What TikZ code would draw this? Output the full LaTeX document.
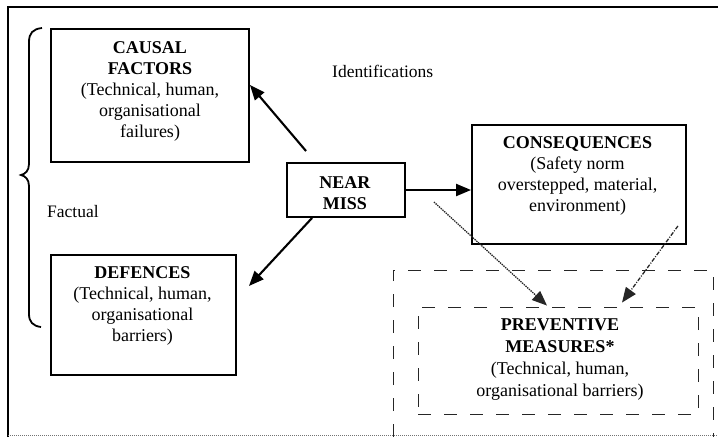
\documentclass[tikz,border=0pt]{standalone}
\usepackage{fontspec}
\setmainfont{Liberation Serif}
\usetikzlibrary{arrows.meta}

\begin{document}
\begin{tikzpicture}[x=1pt,y=-1pt,
  box/.style={draw, line width=1.9pt, rectangle, inner sep=0pt},
  label/.style={align=center, inner sep=0pt, font=\fontsize{18}{21}\selectfont},
  plain/.style={inner sep=0pt, font=\fontsize{17.5}{21}\selectfont},
  solidarrow/.style={line width=2.1pt, -{Triangle[length=15pt,width=12pt]}},
  dotarrow/.style={line width=1.3pt, densely dotted, black!85, -{Triangle[length=15pt,width=12pt]}},
  dasharrow/.style={line width=1.3pt, black!85, dash pattern=on 4pt off 1.5pt on 1pt off 1.5pt, -{Triangle[length=15pt,width=12pt]}},
  measure/.style={line width=0.9pt, dash pattern=on 13pt off 13pt, black!85}]

\useasboundingbox (0,0) rectangle (719,437);

% outer frame
\draw[line width=1.6pt] (8,437) -- (8,7) -- (718,7);
\draw[line width=1pt, black!55, densely dotted] (8,435) -- (718,435);

% boxes
\node[box, minimum width=198pt, minimum height=133pt] (causal) at (150,95.5) {};
\node[box, minimum width=118pt, minimum height=54pt] (near) at (346,190) {};
\node[box, minimum width=214pt, minimum height=119pt] (cons) at (579,184.5) {};
\node[box, minimum width=185pt, minimum height=120pt] (def) at (143.5,315) {};
\node[draw, measure, rectangle, inner sep=0pt, minimum width=280pt, minimum height=107pt] (prev) at (558,360.5) {};

% open dashed frame around the preventive measures
\draw[measure] (393,437) -- (393,270) -- (713,270) -- (713,437);

% box texts
\node[label] (causal-t) at (150,91) {\textbf{CAUSAL}\\\textbf{FACTORS}\\(Technical, human,\\organisational\\failures)};
\node[label] (near-t) at (345,193) {\textbf{NEAR}\\\textbf{MISS}};
\node[label] (cons-t) at (577.5,175.5) {\textbf{CONSEQUENCES}\\(Safety norm\\overstepped, material,\\environment)};
\node[label] (def-t) at (142.5,306) {\textbf{DEFENCES}\\(Technical, human,\\organisational\\barriers)};
\node[label, font=\fontsize{18}{22}\selectfont] (prev-t) at (560,359.5) {\textbf{PREVENTIVE}\\\textbf{MEASURES*}\\(Technical, human,\\organisational barriers)};

% free labels
\node[plain, anchor=base west] (ident) at (332,77) {Identifications};
\node[plain, anchor=base west] (fact) at (47,217) {Factual};

% brace grouping the factual boxes
\draw[line width=1.8pt] (42,28) .. controls (33,29) and (29,33) .. (29,42) -- (29,164)
  .. controls (29,171) and (25,174) .. (21,175)
  .. controls (25,176) and (29,179) .. (29,186) -- (29,314)
  .. controls (29,322) and (33,326) .. (41,327);

% connectors
\draw[solidarrow] ([xshift=20pt,yshift=11pt]near.north west) -- ([yshift=10.5pt]causal.east);
\draw[solidarrow] ([xshift=26pt]near.south west) -- ([xshift=12pt,yshift=29pt]def.east);
\draw[solidarrow] (near.east) -- (near.east -| cons.west);
\draw[dotarrow] ([xshift=28pt,yshift=-12pt]near.east) -- ([xshift=-11pt,yshift=1pt]prev.north);
\draw[dasharrow] ([xshift=-9pt,yshift=19pt]cons.south east) -- ([xshift=64pt,yshift=4pt]prev.north);

\end{tikzpicture}
\end{document}
